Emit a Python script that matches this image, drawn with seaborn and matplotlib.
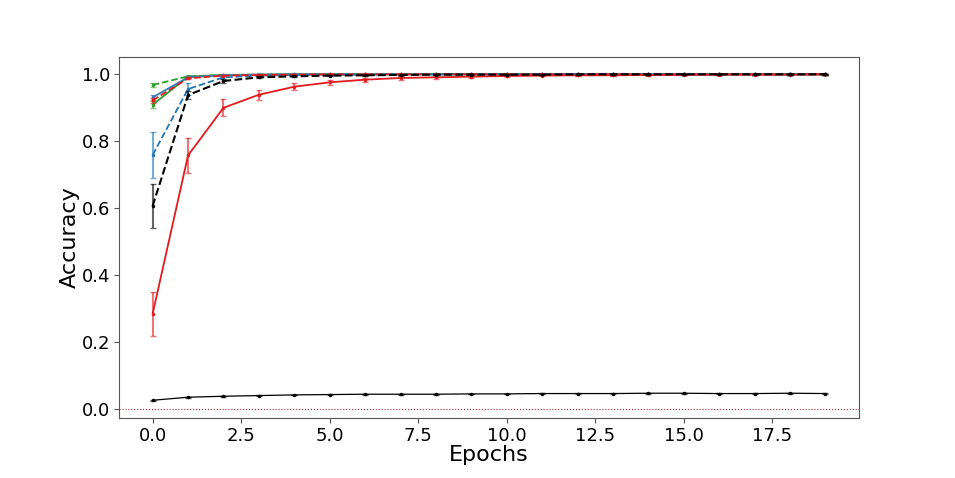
import numpy as np
import pandas as pd
import matplotlib
matplotlib.use("Agg")
import matplotlib.pyplot as plt
import seaborn as sns

# ---------------------------------------------------------------
# Data
# ---------------------------------------------------------------
epochs = list(range(20))

red_solid = [0.284, 0.757, 0.899, 0.938, 0.962, 0.975, 0.983, 0.988, 0.990, 0.992,
             0.994, 0.995, 0.996, 0.996, 0.997, 0.997, 0.998, 0.998, 0.998, 0.999]
red_solid_err = [0.066, 0.052, 0.025, 0.015, 0.011, 0.008, 0.006, 0.005, 0.004, 0.003,
                 0.003, 0.002, 0.002, 0.002, 0.002, 0.001, 0.001, 0.001, 0.001, 0.001]

black_dashed = [0.606, 0.937, 0.979, 0.990, 0.993, 0.995, 0.996, 0.997, 0.998, 0.998,
                0.998, 0.998, 0.999, 0.999, 0.999, 0.999, 0.999, 0.999, 0.999, 0.999]
black_dashed_err = [0.066, 0.012, 0.005, 0.003, 0.002, 0.002, 0.001, 0.001, 0.001, 0.001,
                    0.001, 0.001, 0.001, 0.001, 0.001, 0.001, 0.001, 0.001, 0.001, 0.001]

blue_dashed = [0.758, 0.955, 0.990, 0.995, 0.997, 0.998, 0.998, 0.999, 0.999, 0.999,
               0.999, 0.999, 0.999, 0.999, 0.999, 0.999, 0.999, 0.999, 0.999, 0.999]
blue_dashed_err = [0.068, 0.018, 0.004, 0.002, 0.001, 0.001, 0.001, 0.001, 0.001, 0.001,
                   0.001, 0.001, 0.001, 0.001, 0.001, 0.001, 0.001, 0.001, 0.001, 0.001]

blue_solid = [0.930, 0.990, 0.996, 0.998, 0.999, 0.999, 0.999, 0.999, 0.999, 0.999,
              0.999, 0.999, 0.999, 0.999, 0.999, 0.999, 0.999, 0.999, 0.999, 0.999]
blue_solid_err = [0.008, 0.003, 0.001, 0.001, 0.001, 0.001, 0.001, 0.001, 0.001, 0.001,
                  0.001, 0.001, 0.001, 0.001, 0.001, 0.001, 0.001, 0.001, 0.001, 0.001]

red_dashed = [0.921, 0.987, 0.995, 0.997, 0.998, 0.999, 0.999, 0.999, 0.999, 0.999,
              0.999, 0.999, 0.999, 0.999, 0.999, 0.999, 0.999, 0.999, 0.999, 0.999]
red_dashed_err = [0.008, 0.003, 0.001, 0.001, 0.001, 0.001, 0.001, 0.001, 0.001, 0.001,
                  0.001, 0.001, 0.001, 0.001, 0.001, 0.001, 0.001, 0.001, 0.001, 0.001]

green_solid = [0.908, 0.992, 0.997, 0.998, 0.999, 0.999, 0.999, 0.999, 0.999, 0.999,
               0.999, 0.999, 0.999, 0.999, 0.999, 0.999, 0.999, 0.999, 0.999, 0.999]
green_solid_err = [0.011, 0.003, 0.001, 0.001, 0.001, 0.001, 0.001, 0.001, 0.001, 0.001,
                   0.001, 0.001, 0.001, 0.001, 0.001, 0.001, 0.001, 0.001, 0.001, 0.001]

green_dashed = [0.967, 0.993, 0.997, 0.998, 0.999, 0.999, 0.999, 0.999, 0.999, 0.999,
                0.999, 0.999, 0.999, 0.999, 0.999, 0.999, 0.999, 0.999, 0.999, 0.999]
green_dashed_err = [0.005, 0.002, 0.001, 0.001, 0.001, 0.001, 0.001, 0.001, 0.001, 0.001,
                    0.001, 0.001, 0.001, 0.001, 0.001, 0.001, 0.001, 0.001, 0.001, 0.001]

black_low = [0.026, 0.035, 0.038, 0.040, 0.042, 0.043, 0.044, 0.044, 0.044, 0.045,
             0.045, 0.046, 0.046, 0.046, 0.047, 0.047, 0.046, 0.046, 0.047, 0.046]
black_low_err = [0.001] * 20

# (values, errors, colour, linestyle, linewidth) -- drawn in this order
series = [
    (green_dashed, green_dashed_err, "#2ca02c", "--", 1.3),
    (green_solid, green_solid_err, "#2ca02c", "-", 1.3),
    (blue_solid, blue_solid_err, "#377eb8", "-", 1.3),
    (blue_dashed, blue_dashed_err, "#1f77b4", "--", 1.3),
    (red_solid, red_solid_err, "#e41a1c", "-", 1.3),
    (red_dashed, red_dashed_err, "#e41a1c", "--", 1.3),
    (black_dashed, black_dashed_err, "black", "--", 1.5),
    (black_low, black_low_err, "black", "-", 0.9),
]

# ---------------------------------------------------------------
# Plot
# ---------------------------------------------------------------
sns.set_style("ticks", {"axes.edgecolor": "#555555",
                        "xtick.color": "#555555", "ytick.color": "#555555",
                        "axes.labelcolor": "black", "text.color": "black",
                        "xtick.direction": "out", "ytick.direction": "out"})

fig = plt.figure(figsize=(9.55, 4.78), dpi=100)
ax = fig.add_axes([0.1246, 0.1255, 0.775, 0.7555])

for vals, errs, color, ls, lw in series:
    df = pd.DataFrame({"epoch": epochs, "acc": vals})
    sns.lineplot(data=df, x="epoch", y="acc", color=color, linestyle=ls,
                 marker=".", markersize=5, markeredgewidth=0, linewidth=lw, ax=ax)
    ax.errorbar(epochs, vals, yerr=errs, fmt="none", ecolor=color, alpha=0.6,
                elinewidth=1.5, capsize=2.5)

ax.axhline(0, color="brown", linestyle=":", linewidth=0.8)

ax.set_xlim(-0.95, 19.95)
ax.set_ylim(-0.027, 1.051)
ax.set_xticks([0, 2.5, 5, 7.5, 10, 12.5, 15, 17.5])
ax.set_xticklabels(["0.0", "2.5", "5.0", "7.5", "10.0", "12.5", "15.0", "17.5"])
ax.set_yticks([0, 0.2, 0.4, 0.6, 0.8, 1.0])
ax.tick_params(labelsize=13, labelcolor="black", length=3.5, width=0.8, pad=3)
ax.set_xlabel("Epochs", fontsize=16, labelpad=0, color="black")
ax.set_ylabel("Accuracy", fontsize=16, labelpad=1, color="black")

fig.savefig("out.png", dpi=100)
